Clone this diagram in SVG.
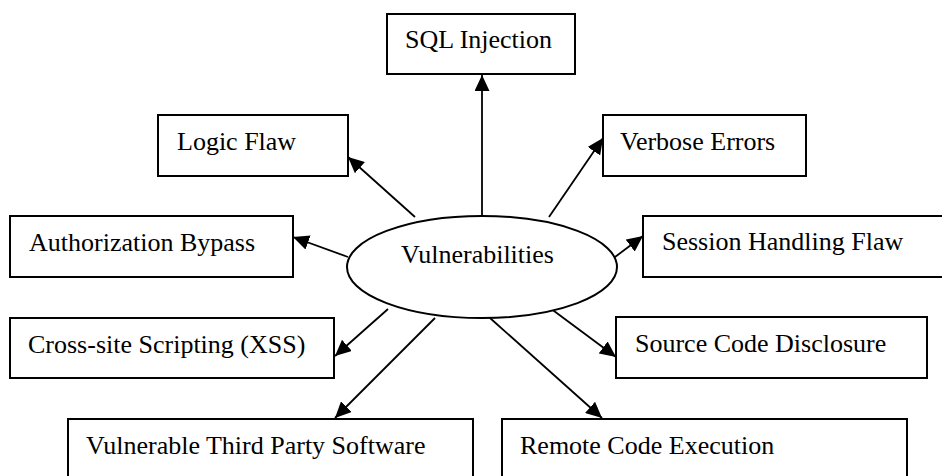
<svg xmlns="http://www.w3.org/2000/svg" width="942" height="476" viewBox="0 0 942 476" font-family="Liberation Serif, DejaVu Serif, serif">
<style>
.box{fill:#fff;stroke:#000;stroke-width:2}
.ell{fill:#fff;stroke:#000;stroke-width:2}
.lbl{font-size:26px;fill:#000}
.con{stroke:#000;stroke-width:1.8;fill:none;marker-end:url(#ah)}
</style>
<defs>
<marker id="ah" markerUnits="userSpaceOnUse" markerWidth="17" markerHeight="15" refX="16" refY="7.5" orient="auto">
<path d="M0,0 L16,7.5 L0,15 z" fill="#000"/>
</marker>
</defs>
<rect width="942" height="476" fill="#fff"/>
<g id="n-sql"><rect class="box" x="387" y="14" width="188" height="60"/><text class="lbl" font-family="Liberation Serif, serif" x="405" y="48">SQL Injection</text></g>
<g id="n-logic"><rect class="box" x="158" y="115" width="190" height="61"/><text class="lbl" font-family="Liberation Serif, serif" x="177" y="150">Logic Flaw</text></g>
<g id="n-verbose"><rect class="box" x="603" y="115" width="203" height="61"/><text class="lbl" font-family="Liberation Serif, serif" x="620" y="150">Verbose Errors</text></g>
<g id="n-authz"><rect class="box" x="10" y="216" width="283" height="61"/><text class="lbl" font-family="Liberation Serif, serif" x="29" y="251">Authorization Bypass</text></g>
<g id="n-session"><rect class="box" x="643" y="216" width="310" height="61"/><text class="lbl" font-family="Liberation Serif, serif" x="662" y="250">Session Handling Flaw</text></g>
<g id="n-xss"><rect class="box" x="10" y="318" width="324" height="60"/><text class="lbl" font-family="Liberation Serif, serif" x="28" y="353">Cross-site Scripting (XSS)</text></g>
<g id="n-scd"><rect class="box" x="616" y="317" width="311" height="61"/><text class="lbl" font-family="Liberation Serif, serif" x="635" y="352">Source Code Disclosure</text></g>
<g id="n-vtps"><rect class="box" x="68" y="419" width="405" height="70"/><text class="lbl" font-family="Liberation Serif, serif" x="86" y="454">Vulnerable Third Party Software</text></g>
<g id="n-rce"><rect class="box" x="502" y="419" width="405" height="70"/><text class="lbl" font-family="Liberation Serif, serif" x="520" y="454">Remote Code Execution</text></g>
<g id="connectors">
<line class="con" x1="482" y1="216" x2="482" y2="75"/>
<line class="con" x1="415" y1="217" x2="348" y2="157"/>
<line class="con" x1="549" y1="217" x2="603" y2="138"/>
<line class="con" x1="348" y1="257" x2="293" y2="237"/>
<line class="con" x1="615" y1="257" x2="643" y2="236"/>
<line class="con" x1="388" y1="309" x2="335" y2="356"/>
<line class="con" x1="550" y1="308" x2="616" y2="357"/>
<line class="con" x1="435" y1="318" x2="335" y2="418"/>
<line class="con" x1="490" y1="318" x2="602" y2="418"/>
</g>
<g id="n-vuln"><ellipse class="ell" cx="482" cy="267" rx="135" ry="51"/><text class="lbl" font-family="Liberation Serif, serif" x="401" y="263">Vulnerabilities</text></g>
</svg>
